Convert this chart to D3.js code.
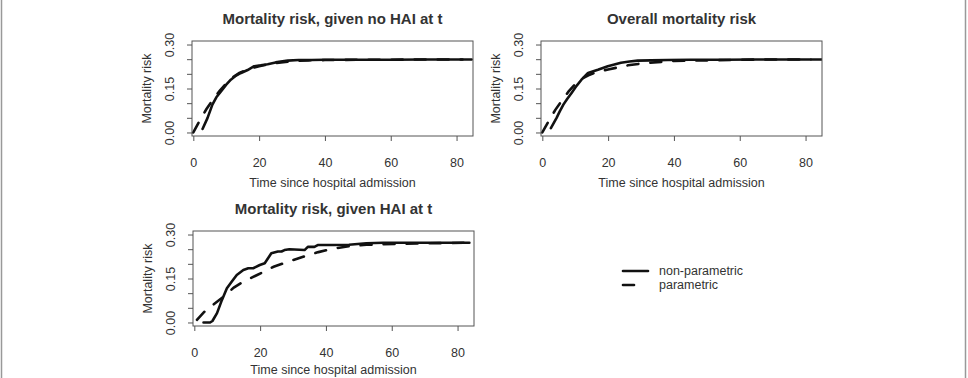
<!doctype html>
<html>
<head>
<meta charset="utf-8"/>
<title>Mortality risk</title>
<style>
body{margin:0;background:#fff;}
text{font-family:"Liberation Sans",Arial,Helvetica,sans-serif;fill:#333;}
</style>
<script src="https://d3js.org/d3.v7.min.js"></script>
</head>
<body>
<script type="text/javascript">
// panel titles
var titles = ["Mortality risk, given no HAI at t", "Overall mortality risk", "Mortality risk, given HAI at t"];
var xTitle = "Time since hospital admission";
var yTitle = "Mortality risk";
var xTicks = [0, 20, 40, 60, 80];
var yTicks = [0, 0.05, 0.10, 0.15, 0.20, 0.25, 0.30];
var yTickLabels = ["0.00", "", "", "0.15", "", "", "0.30"];
var legendLabels = ["non-parametric", "parametric"];

// no HAI at t
var npTimeNoHai = [2.8, 4.3, 5.8, 7, 8.4, 10, 11.4, 13, 14.5, 16.5, 18.5, 20.5, 22.6, 25, 28.7, 32, 36, 40, 50, 60, 70, 81.8];
var npRiskNoHai = [0.012, 0.049, 0.095, 0.12, 0.14, 0.163, 0.18, 0.194, 0.203, 0.213, 0.226, 0.229, 0.233, 0.239, 0.245, 0.247, 0.247, 0.248, 0.248, 0.248, 0.249, 0.249];
var parTimeNoHai = [0, 2, 4, 6, 8, 10, 12, 14, 16, 18, 20, 23, 26, 30, 35, 40, 50, 60, 70, 88];
var parRiskNoHai = [0, 0.042, 0.08, 0.113, 0.142, 0.167, 0.188, 0.203, 0.213, 0.22, 0.226, 0.233, 0.238, 0.243, 0.246, 0.247, 0.248, 0.248, 0.249, 0.249];

// overall
var npTimeAll = [2.6, 4.3, 5.3, 6.4, 7.6, 8.9, 10.4, 11.9, 13.9, 15.5, 16.9, 19.9, 21.9, 23.9, 26.5, 29, 33, 38, 45, 55, 65, 75, 81.5];
var npRiskAll = [0.015, 0.049, 0.072, 0.095, 0.115, 0.135, 0.159, 0.18, 0.203, 0.209, 0.214, 0.226, 0.232, 0.238, 0.242, 0.245, 0.246, 0.247, 0.248, 0.248, 0.249, 0.249, 0.249];
var parTimeAll = [0, 2, 4, 6, 8, 10, 12, 14, 16, 18, 20, 23, 26, 30, 35, 40, 50, 60, 70, 88];
var parRiskAll = [0, 0.04, 0.078, 0.11, 0.14, 0.165, 0.183, 0.195, 0.204, 0.21, 0.215, 0.222, 0.229, 0.235, 0.24, 0.244, 0.246, 0.248, 0.249, 0.249];

// HAI at t
var npTimeHai = [2.8, 4.8, 5.5, 6.9, 8.4, 9.9, 11.4, 12.9, 14.9, 16.4, 17.9, 19.9, 21.4, 23.4, 25.4, 26.5, 27.4, 28.9, 33.5, 34.5, 36.5, 37.5, 42.2, 47, 52.3, 57.4, 65, 75, 83.6];
var npRiskHai = [0, 0, 0.005, 0.032, 0.077, 0.117, 0.14, 0.162, 0.179, 0.185, 0.185, 0.196, 0.202, 0.236, 0.242, 0.242, 0.247, 0.25, 0.247, 0.258, 0.258, 0.264, 0.264, 0.265, 0.27, 0.272, 0.272, 0.272, 0.272];
var parTimeHai = [0.8, 3, 5.9, 9, 12, 15, 19.1, 24.1, 29.2, 34.2, 37.7, 42.2, 47, 52.3, 57, 62.4, 70, 78, 83.6];
var parRiskHai = [0.009, 0.036, 0.062, 0.089, 0.119, 0.14, 0.162, 0.19, 0.21, 0.228, 0.24, 0.252, 0.26, 0.265, 0.267, 0.268, 0.27, 0.271, 0.272];

var svg = d3.select("body")
    .append("svg")
    .attr("width", 968)
    .attr("height", 378);

// outer frame
svg.append("rect")
    .attr("x", 1.5).attr("y", -10)
    .attr("width", 964).attr("height", 400)
    .attr("rx", 8)
    .attr("fill", "none")
    .attr("stroke", "#999")
    .attr("stroke-width", 1.5);

function zip(a, b){ return a.map(function(d,i){ return [d, b[i]]; }); }

function Painel(id, left, top, title, npT, npR, parT, parR, xTitleDy)
{
    var w = 281, h = 95;
    var x = d3.scaleLinear().domain([-0.4, 85]).range([left, left + w]);
    var y = d3.scaleLinear().domain([-0.012, 0.312]).range([top + h, top]);

    svg.append("clipPath").attr("id", "clip" + id)
        .append("rect").attr("x", left).attr("y", top).attr("width", w).attr("height", h);

    var line = d3.line()
        .x(function(d){ return x(d[0]); })
        .y(function(d){ return y(d[1]); });

    var g = svg.append("g").attr("clip-path", "url(#clip" + id + ")");
    g.append("path")
        .attr("d", line(zip(parT, parR)))
        .attr("fill", "none").attr("stroke", "#111")
        .attr("stroke-width", 2.6)
        .attr("stroke-dasharray", "11,12")
        .attr("stroke-linecap", "round");
    g.append("path")
        .attr("d", line(zip(npT, npR)))
        .attr("fill", "none").attr("stroke", "#111")
        .attr("stroke-width", 2.6)
        .attr("stroke-linejoin", "round")
        .attr("stroke-linecap", "round");

    // box
    svg.append("rect")
        .attr("x", left).attr("y", top)
        .attr("width", w).attr("height", h)
        .attr("fill", "none").attr("stroke", "#555");

    // x axis
    var ax = svg.append("g")
        .attr("transform", "translate(0," + (top + h) + ")")
        .call(d3.axisBottom(x).tickValues(xTicks).tickSize(5).tickSizeOuter(0));
    ax.select(".domain").remove();
    ax.selectAll(".tick line").attr("stroke", "#555");
    ax.selectAll(".tick text")
        .attr("y", 31).attr("dy", 0)
        .attr("font-size", 12.5)
        .attr("fill", "#333");

    // y axis
    var ay = svg.append("g")
        .attr("transform", "translate(" + left + ",0)")
        .call(d3.axisLeft(y).tickValues(yTicks)
            .tickFormat(function(d,i){ return yTickLabels[i]; })
            .tickSize(5).tickSizeOuter(0));
    ay.select(".domain").remove();
    ay.selectAll(".tick line").attr("stroke", "#555");
    ay.selectAll(".tick text")
        .attr("x", 0).attr("dy", 0)
        .attr("text-anchor", "middle")
        .attr("transform", "translate(-18,0) rotate(-90)")
        .attr("font-size", 12.5)
        .attr("fill", "#333");

    // titles
    svg.append("text")
        .attr("x", left + w / 2).attr("y", top - 17)
        .attr("text-anchor", "middle")
        .attr("font-size", 15).attr("font-weight", "bold")
        .text(title);
    svg.append("text")
        .attr("x", left + w / 2).attr("y", top + h + xTitleDy)
        .attr("text-anchor", "middle")
        .attr("font-size", 12.5)
        .text(xTitle);
    svg.append("text")
        .attr("transform", "translate(" + (left - 41) + "," + (top + h / 2) + ") rotate(-90)")
        .attr("text-anchor", "middle")
        .attr("font-size", 12.5)
        .text(yTitle);
}

Painel(1, 192, 41, titles[0], npTimeNoHai, npRiskNoHai, parTimeNoHai, parRiskNoHai, 51);
Painel(2, 541, 41, titles[1], npTimeAll, npRiskAll, parTimeAll, parRiskAll, 51);
Painel(3, 193, 231, titles[2], npTimeHai, npRiskHai, parTimeHai, parRiskHai, 48);

// legend
var leg = svg.selectAll(".leg")
    .data(legendLabels)
    .enter()
    .append("g")
    .attr("transform", function(d,i){ return "translate(623," + (271 + i * 14) + ")"; });
leg.append("line")
    .attr("x1", 0).attr("x2", 25)
    .attr("stroke", "#111").attr("stroke-width", 2.6)
    .attr("stroke-linecap", "round")
    .attr("stroke-dasharray", function(d,i){ return i == 1 ? "11,30" : null; });
leg.append("text")
    .attr("x", 36).attr("y", 4)
    .attr("font-size", 12.5)
    .text(function(d){ return d; });
</script>
</body>
</html>
